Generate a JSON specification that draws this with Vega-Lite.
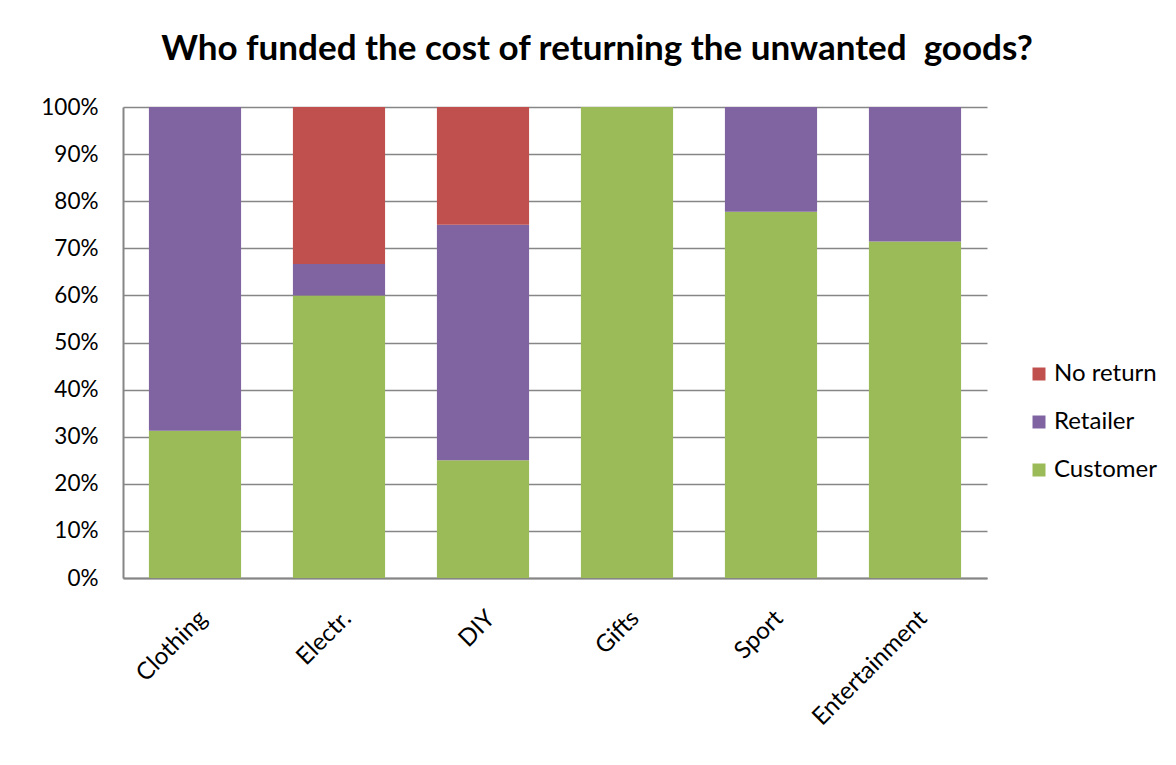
{
  "$schema": "https://vega.github.io/schema/vega-lite/v6.json",
  "autosize": "none",
  "width": 864,
  "height": 471,
  "padding": {"left": 123, "top": 107, "right": 189, "bottom": 187},
  "background": "white",
  "title": {
    "text": "Who funded the cost of returning the unwanted\u00a0 goods?",
    "font": "Lato",
    "fontSize": 35,
    "fontWeight": "bold",
    "color": "black",
    "anchor": "middle",
    "dx": 42,
    "offset": 29
  },
  "data": {
    "values": [
      {"category": "Clothing", "series": "Customer", "share": 0.3125},
      {"category": "Clothing", "series": "Retailer", "share": 0.6875},
      {"category": "Clothing", "series": "No return", "share": 0},
      {"category": "Electr.", "series": "Customer", "share": 0.6},
      {"category": "Electr.", "series": "Retailer", "share": 0.0667},
      {"category": "Electr.", "series": "No return", "share": 0.3333},
      {"category": "DIY", "series": "Customer", "share": 0.25},
      {"category": "DIY", "series": "Retailer", "share": 0.5},
      {"category": "DIY", "series": "No return", "share": 0.25},
      {"category": "Gifts", "series": "Customer", "share": 1},
      {"category": "Gifts", "series": "Retailer", "share": 0},
      {"category": "Gifts", "series": "No return", "share": 0},
      {"category": "Sport", "series": "Customer", "share": 0.7778},
      {"category": "Sport", "series": "Retailer", "share": 0.2222},
      {"category": "Sport", "series": "No return", "share": 0},
      {"category": "Entertainment", "series": "Customer", "share": 0.7143},
      {"category": "Entertainment", "series": "Retailer", "share": 0.2857},
      {"category": "Entertainment", "series": "No return", "share": 0}
    ]
  },
  "transform": [
    {"calculate": "indexof(['Customer','Retailer','No return'], datum.series)", "as": "stackOrder"}
  ],
  "mark": {"type": "bar"},
  "encoding": {
    "x": {
      "field": "category",
      "type": "nominal",
      "sort": ["Clothing", "Electr.", "DIY", "Gifts", "Sport", "Entertainment"],
      "scale": {"paddingInner": 0.36, "paddingOuter": 0.18},
      "axis": {
        "title": null,
        "labelAngle": -45,
        "labelFont": "Lato",
        "labelFontSize": 24,
        "labelColor": "black",
        "labelPadding": 28,
        "ticks": false,
        "domainColor": "#868686",
        "domainWidth": 2
      }
    },
    "y": {
      "field": "share",
      "type": "quantitative",
      "stack": "normalize",
      "scale": {"domain": [0, 1], "nice": false},
      "axis": {
        "title": null,
        "values": [0, 0.1, 0.2, 0.3, 0.4, 0.5, 0.6, 0.7, 0.8, 0.9, 1],
        "format": ".0%",
        "labelFont": "Lato",
        "labelFontSize": 22.5,
        "labelColor": "black",
        "labelPadding": 25,
        "ticks": false,
        "domainColor": "#868686",
        "domainWidth": 2,
        "grid": true,
        "gridColor": "#868686",
        "gridWidth": 1.5
      }
    },
    "color": {
      "field": "series",
      "type": "nominal",
      "scale": {
        "domain": ["No return", "Retailer", "Customer"],
        "range": ["#C0504D", "#8064A2", "#9BBB59"]
      },
      "legend": {
        "title": null,
        "orient": "none",
        "legendX": 904,
        "legendY": 255,
        "symbolType": "square",
        "symbolSize": 169,
        "symbolStrokeWidth": 0,
        "symbolOpacity": 1,
        "labelFont": "Lato",
        "labelFontSize": 24,
        "labelColor": "black",
        "labelOffset": 3,
        "rowPadding": 24
      }
    },
    "order": {"field": "stackOrder", "type": "quantitative"}
  },
  "config": {
    "view": {"stroke": null}
  }
}
